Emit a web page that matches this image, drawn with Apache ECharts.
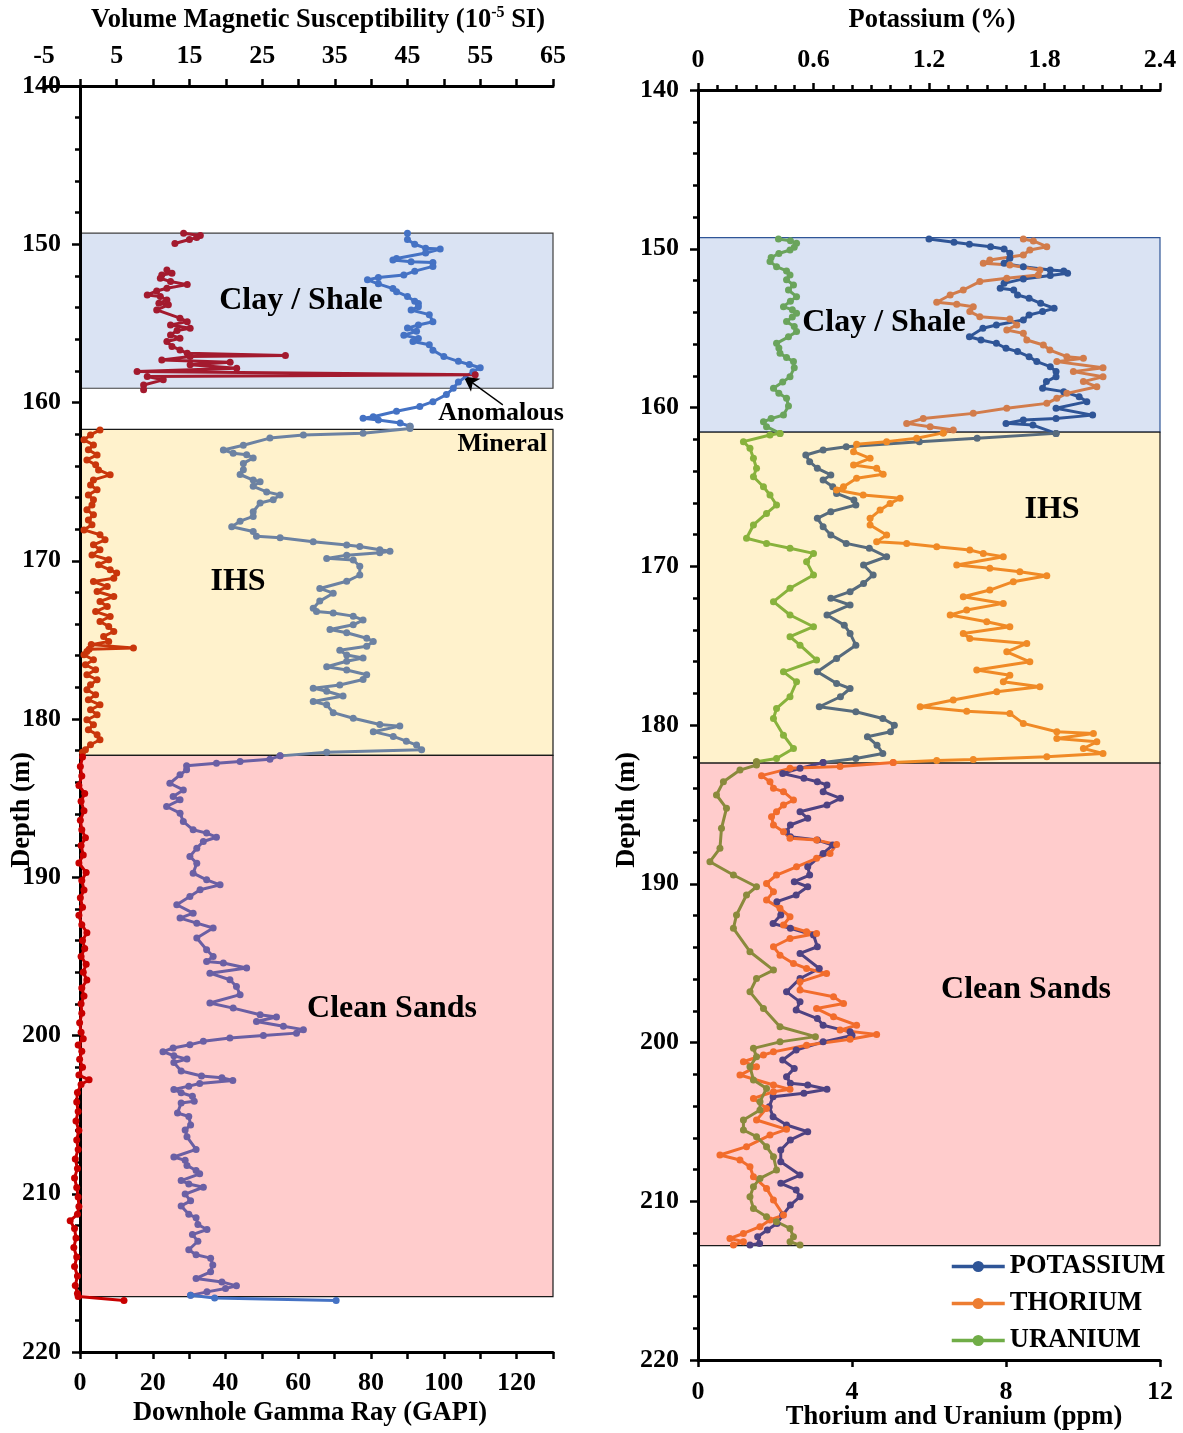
<!DOCTYPE html>
<html>
<head>
<meta charset="utf-8">
<title>Downhole logs</title>
<script src="https://cdn.jsdelivr.net/npm/echarts@6/dist/echarts.min.js"></script>
<style>
  html, body { margin: 0; padding: 0; background: #fff; }
  #chart { width: 1183px; height: 1433px; }
</style>
</head>
<body>
<div id="chart"></div>
<script>
// ---------- depth intervals of the three lithological zones (m) ----------
const ZONES_LEFT = [
  { name: 'Clay / Shale', top: 149.3, base: 159.1, fill: '#dae3f3', border: '#3f3f3f' },
  { name: 'IHS', top: 161.7, base: 182.3, fill: '#fff2cc', border: '#1a1a1a' },
  { name: 'Clean Sands', top: 182.3, base: 216.5, fill: '#ffcccc', border: '#1a1a1a' }
];
const ZONES_RIGHT = [
  { name: 'Clay / Shale', top: 149.3, base: 161.55, fill: '#dae3f3', border: '#2f5597' },
  { name: 'IHS', top: 161.55, base: 182.4, fill: '#fff2cc', border: '#1a1a1a' },
  { name: 'Clean Sands', top: 182.4, base: 212.8, fill: '#ffcccc', border: '#1a1a1a' }
];

// ---------- Downhole gamma ray, [depth m, GAPI] ----------
const GR_CLAY = [[149.3,90],[149.7,90],[150.0,92],[150.25,95],[150.3,99],[150.55,95],[150.9,87],[151.0,86],[151.1,91],[151.15,97],[151.4,97],[151.7,92],[151.95,89],[152.1,82],[152.25,79],[152.5,82],[152.8,86],[153.0,87],[153.3,90],[153.6,92],[153.75,93],[153.95,93],[154.15,91],[154.45,96],[154.9,97],[155.1,93],[155.3,90],[155.5,92.5],[155.75,89],[155.95,93],[156.15,91.5],[156.35,96],[156.7,97],[157.1,100],[157.4,104],[157.6,107],[157.8,110],[158.05,108],[158.7,104],[159.1,102.6],[159.5,100.7],[159.95,97],[160.25,93.4],[160.55,87],[160.9,80.6],[161.0,77.8],[161.1,82],[161.3,88],[161.5,90.7]];
const GR_IHS = [[161.5,90.7],[161.65,90.7],[161.95,77.8],[162.05,61.4],[162.25,52.2],[162.7,44.9],[163.0,39.4],[163.2,42.1],[163.3,45.8],[163.5,47.6],[163.85,44.9],[164.25,44.9],[164.55,44],[164.9,47.6],[165.0,49.5],[165.3,47.6],[165.65,51.3],[165.85,55],[166.15,53.1],[166.35,49.5],[166.9,47.6],[167.2,47.6],[167.5,44],[167.85,41.7],[168.15,47.6],[168.45,48.5],[168.55,55],[168.8,64.1],[169.0,73.3],[169.1,76.9],[169.3,82.4],[169.4,85.2],[169.5,82.4],[169.65,73.3],[169.85,67.8],[169.95,75.1],[170.35,76.9],[170.9,76.9],[171.3,73.3],[171.75,65.9],[172.05,69.6],[172.55,65.9],[173.0,64.1],[173.2,65],[173.3,69.6],[173.5,75.1],[173.75,77.8],[174.05,75.1],[174.35,68.7],[174.55,73.3],[174.9,78.8],[175.1,80.6],[175.4,78.8],[175.65,71.4],[175.95,73.3],[176.15,77.8],[176.35,73.3],[176.7,67.8],[176.9,73.3],[177.2,78.8],[177.5,77.8],[177.85,71.4],[178.05,64.1],[178.25,67.8],[178.55,72.3],[178.9,64.1],[179.1,67.8],[179.6,69.6],[179.95,75.1],[180.35,82.4],[180.45,87.9],[180.8,80.6],[181.1,86.1],[181.4,89.7],[181.65,92.5],[181.95,93.9],[182.1,67.8],[182.33,55]];
const GR_SAND = [[182.33,55],[182.54,52.2],[182.69,44],[182.79,37.5],[182.96,29.3],[183.21,29.3],[183.53,27.5],[184.06,24.7],[184.48,28.4],[184.9,25.6],[185.11,27.5],[185.53,23.8],[185.95,27.5],[186.48,28.4],[187.0,31.1],[187.21,34.8],[187.47,37.5],[187.74,33.9],[188.16,32.1],[188.69,30.2],[189.11,32.1],[189.74,31.1],[190.16,34.8],[190.48,38.5],[190.79,33],[191.21,30.2],[191.74,26.6],[192.27,31.1],[192.58,27.5],[192.9,32.1],[193.21,36.6],[193.84,32.1],[194.58,34.8],[195.0,36.6],[195.32,34.8],[195.42,39.4],[195.74,45.8],[196.06,35.7],[196.48,41.2],[196.9,43],[197.42,44],[197.95,35.7],[198.27,42.1],[198.69,49.5],[198.83,54],[199.11,48.5],[199.42,55.9],[199.63,61.4],[199.85,59.5],[200.0,50.4],[200.16,41.2],[200.37,33.9],[200.58,30.2],[200.79,25.6],[201.02,22.8],[201.28,25.8],[201.49,29.4],[201.71,25.8],[202.24,27.8],[202.56,33.4],[202.67,39],[202.84,42],[203.03,32.9],[203.2,29.9],[203.41,25.8],[203.62,27.8],[203.84,30.9],[204.16,31.4],[204.26,27.8],[204.9,26.8],[205.12,29.9],[205.65,30.4],[205.97,28.9],[206.4,29.4],[207.2,31.9],[207.68,25.8],[207.89,28.9],[208.21,29.4],[208.53,31.9],[208.74,32.9],[209.17,27.8],[209.38,29.9],[209.59,33.9],[210.02,28.9],[210.45,30.4],[210.77,27.8],[211.3,29.9],[211.51,31.9],[211.94,32.4],[212.26,34.9],[212.58,30.9],[213.0,32.4],[213.54,29.9],[213.86,31.9],[214.07,35.9],[214.5,36.5],[214.93,35.9],[215.35,31.9],[215.57,39],[215.82,43],[215.99,40],[216.2,34.9],[216.42,30.4]];
const GR_TAIL = [[216.42,30.4],[216.59,37],[216.74,70.4]];

// ---------- Volume magnetic susceptibility, [depth m, 10^-5 SI] ----------
const MS_CLAY = [[149.31,14.2],[149.45,16.5],[149.58,16],[149.7,15],[149.95,13],null,[151.62,11.9],[151.83,12.6],[151.95,11.2],[152.15,11],[152.36,12.4],[152.55,14.7],[152.78,11.9],[152.95,10.5],[153.2,9.2],[153.3,11],[153.52,11.9],[153.73,10.8],[153.83,12.1],[154.15,10.5],[154.67,13.7],[154.89,14.7],[155.1,12.4],[155.31,15.1],[155.45,13.3],[155.73,12.4],[155.94,13.7],[156.15,11.9],[156.46,12.6],[156.68,13.7],[156.89,14.7],[157.03,28.2],[157.1,15.1],[157.31,11.2],[157.45,20.6],[157.62,15.1],[157.83,21.5],[158.04,7.8],[158.25,54.3],[158.36,9.2],[158.57,11.4],[158.89,8.7],[159.2,8.7]];
const MS_IHS = [[161.73,2.7],[162.05,1.4],[162.36,0.5],[162.68,1.8],[162.99,1.1],[163.31,2.3],[163.63,0.9],[163.94,2.1],[164.26,2.5],[164.57,4.1],[164.89,1.8],[165.21,1.4],[165.52,2.3],[165.84,1.1],[166.15,1.8],[166.47,1.6],[166.78,0.9],[167.1,1.8],[167.42,1.1],[167.73,1.6],[168.05,0.5],[168.36,2.7],[168.68,3.4],[168.99,1.8],[169.31,2.7],[169.63,1.6],[169.94,3.9],[170.26,2.5],[170.57,4.1],[170.78,5.0],[171.1,4.6],[171.31,1.8],[171.63,3.7],[171.94,2.3],[172.26,4.6],[172.57,2.7],[172.89,3.7],[173.21,2.1],[173.52,4.1],[173.84,2.7],[174.15,3.9],[174.47,4.6],[174.78,3.2],[175.1,3.9],[175.3,1.5],[175.52,7.3],[175.6,1.2],[175.73,0.9],[175.94,0.5],[176.26,1.8],[176.57,0.7],[176.89,2.1],[177.21,0.9],[177.52,2.3],[177.84,1.4],[178.15,0.9],[178.47,2.1],[178.78,1.1],[179.1,2.7],[179.42,1.4],[179.73,2.3],[180.05,0.9],[180.36,1.8],[180.68,1.1],[180.99,2.3],[181.31,2.7],[181.63,1.4],[181.94,0.7],[182.1,0.3]];
const MS_SAND = [[182.4,0.3],[183.0,0],[183.6,0.2],[184.2,-0.2],[184.7,0.6],[185.2,0.1],[185.8,0.5],[186.4,0],[187.0,0.2],[187.5,0.7],[188.0,0.1],[188.6,0.4],[189.1,-0.2],[189.7,0.8],[190.2,0.2],[190.8,0.5],[191.3,0],[191.9,0.3],[192.4,-0.2],[193.0,0.2],[193.5,0.9],[194.0,0.3],[194.5,0.6],[195.0,0.1],[195.5,0.8],[196.0,0.4],[196.5,0.9],[197.0,0.2],[197.5,0.5],[198.0,0.1],[198.6,0.2],[199.2,-0.1],[199.8,0.1],[200.2,0.4],[200.6,-0.3],[201.0,0.2],[201.5,-0.1],[202.0,0.3],[202.5,-0.2],[202.8,1.2],[203.1,0.1],[203.6,-0.4],[204.2,-0.5],[204.8,-0.3],[205.4,-0.6],[206.0,-0.2],[206.6,-0.5],[207.2,-0.3],[207.8,-0.7],[208.4,-0.4],[209.0,-0.8],[209.6,-0.5],[210.2,-0.3],[210.8,-0.2],[211.3,-0.4],[211.7,-1.4],[212.2,-0.8],[212.8,-0.6],[213.4,-0.9],[214.0,-0.5],[214.6,-0.8],[215.2,-0.4],[215.8,-0.7],[216.3,-0.4],[216.5,-0.3],[216.75,6.0]];

// ---------- Spectral gamma: potassium (%), thorium and uranium (ppm) ----------
const K_CLAY = [[149.38,1.2],[149.59,1.33],[149.72,1.41],[149.87,1.52],[150.01,1.59],[150.29,1.62],[150.6,1.62],[150.92,1.59],[151.13,1.69],[151.34,1.83],[151.4,1.9],[151.55,1.92],[151.69,1.83],[151.9,1.69],[152.18,1.59],[152.49,1.57],[152.6,1.64],[152.91,1.66],[153.12,1.72],[153.44,1.78],[153.75,1.85],[153.96,1.79],[154.17,1.72],[154.49,1.69],[154.8,1.55],[155.01,1.48],[155.54,1.41],[155.75,1.47],[155.96,1.55],[156.27,1.6],[156.48,1.66],[156.8,1.72],[157.11,1.76],[157.43,1.83],[157.74,1.86],[158.06,1.86],[158.37,1.81],[158.79,1.79],[159.0,1.9],[159.32,1.98],[159.63,2.02],[160.05,1.86],[160.48,2.05],[160.69,1.86],[160.79,1.69],[161.0,1.6],[161.11,1.74],[161.63,1.86]];
const K_IHS = [[161.63,1.86],[161.94,1.45],[162.15,1.15],[162.47,0.77],[162.68,0.65],[162.99,0.56],[163.41,0.58],[163.83,0.62],[164.25,0.69],[164.57,0.65],[164.99,0.7],[165.41,0.72],[165.83,0.81],[166.14,0.82],[166.56,0.69],[166.98,0.62],[167.51,0.65],[168.03,0.69],[168.56,0.77],[168.87,0.89],[169.4,0.98],[169.92,0.86],[170.55,0.91],[171.08,0.86],[171.6,0.79],[172.02,0.69],[172.44,0.79],[173.07,0.67],[173.71,0.76],[174.23,0.79],[174.97,0.82],[175.81,0.72],[176.65,0.62],[177.38,0.72],[177.7,0.79],[178.22,0.74],[178.85,0.63],[179.17,0.82],[179.59,0.96],[180.01,1.02],[180.43,1.0],[180.74,0.88],[181.27,0.93],[181.79,0.96],[182.11,0.82],[182.36,0.65]];
const K_SAND = [[182.36,0.65],[182.73,0.53],[183.05,0.44],[183.36,0.55],[183.57,0.62],[183.78,0.67],[184.2,0.65],[184.62,0.74],[185.04,0.67],[185.46,0.53],[185.88,0.57],[186.3,0.48],[186.72,0.46],[187.04,0.48],[187.25,0.62],[187.56,0.7],[188.09,0.65],[188.93,0.57],[189.45,0.58],[189.87,0.5],[190.19,0.57],[190.71,0.51],[191.13,0.41],[191.97,0.43],[192.5,0.39],[192.81,0.48],[193.23,0.6],[193.97,0.62],[194.39,0.53],[195.34,0.63],[195.97,0.53],[196.81,0.46],[197.44,0.53],[197.96,0.51],[198.49,0.62],[198.91,0.65],[199.33,0.79],[199.55,0.8],[199.96,0.65],[200.47,0.51],[201.1,0.44],[201.63,0.5],[202.15,0.46],[202.57,0.48],[202.68,0.57],[202.95,0.67],[203.2,0.55],[203.41,0.39],[204.04,0.37],[204.67,0.39],[205.2,0.46],[205.62,0.57],[206.14,0.48],[206.77,0.43],[207.51,0.43],[208.35,0.53],[208.87,0.43],[209.29,0.51],[209.71,0.53],[210.24,0.48],[210.87,0.44],[211.4,0.41],[211.81,0.36],[212.24,0.31],[212.66,0.32],[212.76,0.27]];

const TH_CLAY = [[149.38,8.45],[149.51,8.71],[149.87,9.06],[150.08,8.62],[150.39,8.45],[150.71,7.58],[150.92,7.41],[151.02,8.1],[151.34,8.88],[151.65,8.84],[151.86,8.02],[152.07,7.32],[152.6,6.89],[152.91,6.55],[153.37,6.2],[153.5,6.72],[153.65,7.15],[153.96,7.06],[154.28,7.32],[154.42,8.1],[154.8,8.28],[155.12,8.02],[155.33,8.45],[155.75,8.54],[156.06,8.97],[156.38,9.14],[156.8,9.58],[156.9,10.01],[157.11,9.32],[157.49,10.52],[157.74,9.75],[158.06,10.52],[158.37,10.01],[158.69,10.36],[159.11,9.58],[159.42,9.32],[159.74,9.06],[160.05,8.02],[160.37,7.15],[160.69,5.85],[161.0,5.42],[161.21,6.03],[161.42,6.63],[161.6,6.37]];
const TH_IHS = [[161.6,6.37],[161.94,5.68],[162.15,4.9],[162.32,4.12],[162.78,4.04],[163.2,4.47],[163.62,4.04],[163.83,4.64],[164.21,4.81],[164.46,4.12],[164.99,3.78],[165.2,3.6],[165.51,4.29],[165.72,5.25],[166.04,4.99],[166.46,4.73],[166.98,4.47],[167.4,4.47],[168.03,4.9],[168.45,4.64],[168.56,5.42],[168.77,6.2],[168.98,7.06],[169.19,7.41],[169.4,7.93],[169.92,6.72],[170.13,7.58],[170.34,8.36],[170.6,9.06],[170.97,8.19],[171.5,7.58],[171.92,6.89],[172.34,7.93],[172.76,6.98],[173.07,6.55],[173.5,7.5],[173.81,8.1],[174.23,6.89],[174.55,7.06],[174.86,8.54],[175.39,8.02],[176.02,8.62],[176.54,7.24],[176.86,8.1],[177.28,7.93],[177.59,8.88],[177.91,7.76],[178.43,6.63],[178.85,5.77],[179.13,6.98],[179.27,8.1],[179.9,8.45],[180.43,9.32],[180.53,10.27],[180.85,9.32],[181.06,10.36],[181.48,10.01],[181.79,10.52],[182.0,9.06],[182.17,7.15],[182.23,6.2],[182.36,5.07]];
const TH_SAND = [[182.36,5.07],[182.62,3.69],[182.73,2.39],[183.19,1.65],[183.57,1.87],[183.99,1.96],[184.2,2.22],[184.73,2.48],[185.04,2.22],[185.46,2.04],[185.78,1.91],[186.3,1.96],[186.72,2.22],[187.14,2.39],[187.25,3.08],[187.52,3.6],[188.09,3.43],[188.4,3.08],[188.93,2.56],[189.45,2.04],[189.98,1.78],[190.5,1.96],[191.03,1.78],[191.55,2.13],[192.08,2.39],[192.6,2.22],[193.02,2.82],[193.13,3.08],[193.45,2.39],[193.97,1.96],[194.5,2.13],[195.02,2.48],[195.34,2.82],[195.65,3.34],[196.18,2.65],[196.7,2.65],[197.12,3.52],[197.54,3.78],[197.86,3.08],[198.38,3.52],[198.91,4.12],[199.22,3.69],[199.49,4.64],[199.8,3.95],[200.17,2.82],[200.59,1.96],[200.79,1.7],[201.21,1.18],[201.52,1.52],[202.05,1.09],[202.68,1.96],[202.95,2.39],[203.1,1.96],[203.52,1.44],[204.15,1.78],[204.88,1.52],[205.47,2.3],[205.83,1.87],[206.56,1.26],[207.09,0.57],[207.4,1.09],[207.82,1.35],[208.45,1.44],[209.19,1.78],[209.92,1.96],[210.87,2.22],[211.18,1.87],[211.6,1.61],[212.03,1.18],[212.34,0.83],[212.55,1.18],[212.76,0.92]];

const U_CLAY = [[149.38,2.09],[149.5,2.4],[149.66,2.56],[149.9,2.5],[150.08,2.39],[150.3,2.1],[150.55,1.9],[150.81,1.87],[151.13,2.04],[151.4,2.3],[151.65,2.39],[151.95,2.3],[152.28,2.48],[152.6,2.35],[153.02,2.56],[153.3,2.4],[153.65,2.22],[153.85,2.45],[154.07,2.56],[154.3,2.45],[154.59,2.3],[154.9,2.5],[155.22,2.56],[155.55,2.35],[155.96,2.04],[156.25,2.1],[156.59,2.13],[156.85,2.3],[157.11,2.48],[157.5,2.5],[158.06,2.39],[158.4,2.2],[158.79,1.96],[159.1,2.1],[159.42,2.3],[159.9,2.35],[160.47,2.22],[160.7,1.9],[160.9,1.7],[161.21,1.78],[161.63,2.13]];
const U_IHS = [[161.63,2.13],[161.73,1.87],[162.15,1.18],[162.57,1.35],[163.2,1.44],[163.83,1.52],[164.36,1.44],[164.99,1.7],[165.51,1.87],[166.14,2.04],[166.67,1.78],[167.4,1.44],[168.24,1.26],[168.56,1.78],[168.87,2.39],[169.19,3.0],[169.71,2.82],[170.55,3.0],[171.39,2.39],[172.23,1.96],[173.07,2.39],[173.81,3.0],[174.44,2.39],[174.97,2.65],[175.91,3.08],[176.65,2.22],[177.28,2.56],[178.22,2.39],[178.96,2.04],[179.59,1.96],[180.64,2.22],[181.48,2.48],[182.11,2.04],[182.32,1.52]];
const U_SAND = [[182.32,1.52],[182.52,1.52],[182.84,1.09],[183.57,0.66],[184.41,0.48],[185.25,0.74],[186.51,0.61],[187.77,0.57],[188.61,0.31],[189.45,0.92],[190.19,1.52],[190.71,1.26],[191.97,1.0],[192.81,0.92],[194.28,1.35],[195.44,1.96],[195.97,1.52],[196.81,1.35],[197.86,1.7],[199.01,2.13],[199.63,3.05],[199.96,2.13],[200.37,1.44],[200.89,1.52],[201.52,1.35],[202.36,1.44],[202.89,1.78],[203.73,1.61],[204.25,1.61],[204.88,1.18],[205.51,1.18],[205.93,1.52],[206.56,1.78],[207.19,1.96],[208.03,2.04],[208.56,1.61],[209.08,1.44],[209.71,1.35],[210.45,1.44],[210.98,1.78],[211.29,2.04],[211.71,2.39],[212.24,2.48],[212.55,2.39],[212.76,2.65]];

// Annotation arrow tail for the anomalous magnetic reading, [10^-5 SI, depth m]
const ANOMALY_ARROW_TAIL = [58.1, 160.15];

// ---------- styling ----------
const SERIF = '"Liberation Serif", "Times New Roman", serif';
const INK = '#000';
const AXIS_LINE = { show: true, onZero: false, lineStyle: { color: INK, width: 3 } };
const AXIS_TICK = { show: true, length: 7, lineStyle: { color: INK, width: 2.5 } };
const LABEL = { color: INK, fontFamily: SERIF, fontWeight: 'bold', fontSize: 26 };
const TITLE_FONT = 'bold 26.5px ' + SERIF;
const ZONE_FONT = 'bold 32px ' + SERIF;
const NOTE_FONT = 'bold 26px ' + SERIF;

// depth-first pairs -> [x value, depth] for the value/value line charts
function toXY(rows) {
  return rows.map(r => (r ? [r[1], r[0]] : '-'));
}

function logSeries(name, rows, color, xAxisIndex, yAxisIndex) {
  return {
    name: name,
    type: 'line',
    xAxisIndex: xAxisIndex,
    yAxisIndex: yAxisIndex,
    data: toXY(rows),
    connectNulls: false,
    symbol: 'circle',
    symbolSize: 7,
    showSymbol: true,
    lineStyle: { color: color, width: 3 },
    itemStyle: { color: color },
    z: 5,
    silent: true
  };
}

function zoneSeries(zones, xMax, xAxisIndex, yAxisIndex) {
  return {
    type: 'line',
    xAxisIndex: xAxisIndex,
    yAxisIndex: yAxisIndex,
    data: [],
    z: 1,
    silent: true,
    markArea: {
      silent: true,
      label: { show: false },
      data: zones.map(zn => [
        { xAxis: 0, yAxis: zn.top, itemStyle: { color: zn.fill, borderColor: zn.border, borderWidth: 1.2 } },
        { xAxis: xMax, yAxis: zn.base }
      ])
    }
  };
}

function depthAxis(gridIndex, visible) {
  return {
    type: 'value',
    gridIndex: gridIndex,
    inverse: true,
    min: 140,
    max: 220,
    interval: 10,
    show: visible,
    z: 3,
    axisLine: AXIS_LINE,
    axisTick: { show: true, length: 8, lineStyle: { color: INK, width: 2.5 } },
    minorTick: { show: true, splitNumber: 5, length: 5, lineStyle: { color: INK, width: 2.5 } },
    axisLabel: Object.assign({ margin: 19 }, LABEL),
    splitLine: { show: false }
  };
}

const anomalyIndex = MS_CLAY.reduce((best, r, i) => (r && (best < 0 || r[1] > MS_CLAY[best][1]) ? i : best), -1);
const anomaly = MS_CLAY[anomalyIndex];

const msClay = logSeries('Magnetic susceptibility', MS_CLAY, '#a31a2e', 1, 1);
msClay.markLine = {
  silent: true,
  symbol: ['none', 'arrow'],
  symbolSize: [12, 15],
  lineStyle: { color: INK, width: 1.3, type: 'solid' },
  label: { show: false },
  data: [[
    { coord: ANOMALY_ARROW_TAIL },
    { coord: [anomaly[1] - 1.6, anomaly[0] + 0.1] }
  ]]
};

function text(x, y, str, font, align, rotation) {
  return {
    type: 'text', x: x, y: y, z: 10, rotation: rotation || 0,
    style: { text: str, align: align || 'center', verticalAlign: 'middle', font: font, fill: INK }
  };
}

const option = {
  animation: false,
  backgroundColor: '#fff',
  grid: [
    { left: 80, top: 86, width: 473, height: 1266, containLabel: false },
    { left: 44, top: 86, width: 509, height: 1266, containLabel: false },
    { left: 698, top: 90, width: 462, height: 1270, containLabel: false }
  ],
  xAxis: [
    { // downhole gamma ray, bottom of left track
      type: 'value', gridIndex: 0, position: 'bottom', min: 0, max: 130, interval: 10, z: 3,
      axisLine: AXIS_LINE, axisTick: AXIS_TICK, splitLine: { show: false },
      axisLabel: Object.assign({ margin: 18, formatter: v => (v % 20 === 0 ? String(v) : '') }, LABEL)
    },
    { // magnetic susceptibility, top of left track
      type: 'value', gridIndex: 1, position: 'top', min: -5, max: 65, interval: 5, z: 3,
      axisLine: AXIS_LINE, axisTick: AXIS_TICK, splitLine: { show: false },
      axisLabel: Object.assign({ margin: 17, formatter: v => ((v + 5) % 10 === 0 ? String(v) : '') }, LABEL)
    },
    { // thorium and uranium, bottom of right track
      type: 'value', gridIndex: 2, position: 'bottom', min: 0, max: 12, interval: 4, z: 3,
      axisLine: AXIS_LINE, axisTick: AXIS_TICK, splitLine: { show: false },
      axisLabel: Object.assign({ margin: 19 }, LABEL)
    },
    { // potassium, top of right track
      type: 'value', gridIndex: 2, position: 'top', min: 0, max: 2.4, interval: 0.6, z: 3,
      axisLine: AXIS_LINE, axisTick: AXIS_TICK, splitLine: { show: false },
      minorTick: { show: true, splitNumber: 6, length: 5, lineStyle: { color: INK, width: 2.5 } },
      axisLabel: Object.assign({ margin: 17 }, LABEL)
    }
  ],
  yAxis: [depthAxis(0, true), depthAxis(1, false), depthAxis(2, true)],
  legend: {
    left: 945,
    top: 1248,
    orient: 'vertical',
    itemWidth: 53,
    itemHeight: 14,
    itemGap: 10,
    selectedMode: false,
    textStyle: { color: INK, fontFamily: SERIF, fontWeight: 'bold', fontSize: 26.5 },
    data: [
      { name: 'POTASSIUM', itemStyle: { color: '#2f5597' }, lineStyle: { color: '#2f5597', width: 3.5 } },
      { name: 'THORIUM', itemStyle: { color: '#ed7d31' }, lineStyle: { color: '#ed7d31', width: 3.5 } },
      { name: 'URANIUM', itemStyle: { color: '#70ad47' }, lineStyle: { color: '#70ad47', width: 3.5 } }
    ]
  },
  series: [
    zoneSeries(ZONES_LEFT, 130, 0, 0),
    zoneSeries(ZONES_RIGHT, 12, 2, 2),

    logSeries('Gamma ray', GR_CLAY, '#4472c4', 0, 0),
    logSeries('Gamma ray', GR_IHS, '#6c82a2', 0, 0),
    logSeries('Gamma ray', GR_SAND, '#6a5fa4', 0, 0),
    logSeries('Gamma ray', GR_TAIL, '#4472c4', 0, 0),

    msClay,
    logSeries('Magnetic susceptibility', MS_IHS, '#c9360b', 1, 1),
    logSeries('Magnetic susceptibility', MS_SAND, '#c80000', 1, 1),

    logSeries('POTASSIUM', K_CLAY, '#2f5597', 3, 2),
    logSeries('POTASSIUM', K_IHS, '#576b7d', 3, 2),
    logSeries('POTASSIUM', K_SAND, '#4e4282', 3, 2),

    logSeries('THORIUM', TH_CLAY, '#d27c4b', 2, 2),
    logSeries('THORIUM', TH_IHS, '#f08a26', 2, 2),
    logSeries('THORIUM', TH_SAND, '#f26c2c', 2, 2),

    logSeries('URANIUM', U_CLAY, '#6aa45c', 2, 2),
    logSeries('URANIUM', U_IHS, '#88b23c', 2, 2),
    logSeries('URANIUM', U_SAND, '#8a8a3c', 2, 2)
  ],
  graphic: [
    // axis titles
    {
      type: 'text', x: 318, y: 20, z: 10,
      style: {
        text: '{t|Volume Magnetic Susceptibility (10}{s|-5}{t| SI)}',
        align: 'center', verticalAlign: 'middle',
        rich: {
          t: { fontFamily: SERIF, fontWeight: 'bold', fontSize: 26.5, fill: INK, lineHeight: 30 },
          s: { fontFamily: SERIF, fontWeight: 'bold', fontSize: 16, fill: INK, verticalAlign: 'top', lineHeight: 30, padding: [0, 0, 11, 0] }
        }
      }
    },
    text(310, 1413, 'Downhole Gamma Ray (GAPI)', TITLE_FONT),
    text(932, 20, 'Potassium (%)', TITLE_FONT),
    text(954, 1417, 'Thorium and Uranium (ppm)', TITLE_FONT),
    text(22, 810, 'Depth (m)', TITLE_FONT, 'center', Math.PI / 2),
    text(627, 810, 'Depth (m)', TITLE_FONT, 'center', Math.PI / 2),

    // zone names
    text(301, 301, 'Clay / Shale', ZONE_FONT),
    text(238, 582, 'IHS', ZONE_FONT),
    text(392, 1009, 'Clean Sands', ZONE_FONT),
    text(884, 323, 'Clay / Shale', ZONE_FONT),
    text(1052, 510, 'IHS', ZONE_FONT),
    text(1026, 990, 'Clean Sands', ZONE_FONT),

    // annotation of the anomalous reading
    text(501, 413, 'Anomalous', NOTE_FONT),
    text(547, 444, 'Mineral', NOTE_FONT, 'right')
  ]
};

const chart = echarts.init(document.getElementById('chart'), null, { renderer: 'canvas' });
chart.setOption(option);
</script>
</body>
</html>
